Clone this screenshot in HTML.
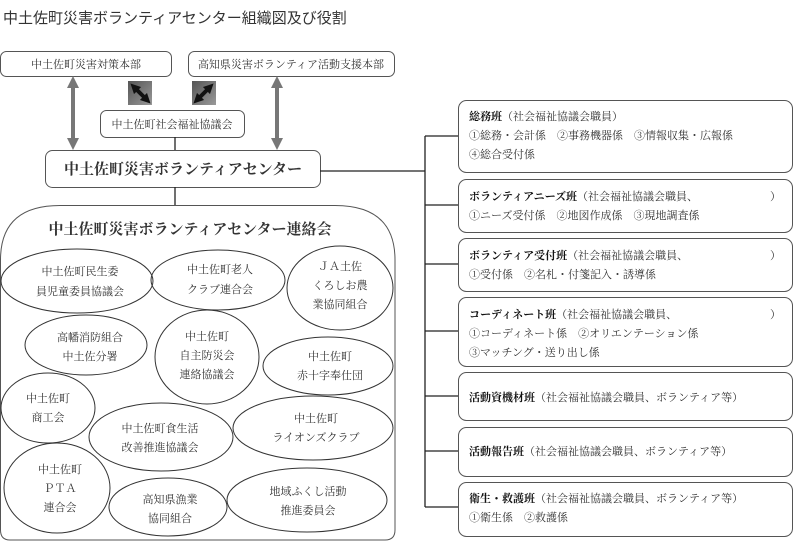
<!DOCTYPE html><html><head><meta charset="utf-8"><style>body{margin:0;background:#fff}svg{display:block}text{font-family:"Liberation Serif","Noto Serif CJK SC",serif;fill:#333}</style></head><body>
<svg width="800" height="542" viewBox="0 0 800 542" xmlns="http://www.w3.org/2000/svg">
<defs><marker id="a" viewBox="0 0 10 10" refX="5" refY="5" markerWidth="3" markerHeight="3" orient="auto-start-reverse"><path d="M0,0L10,5L0,10z" fill="#777"/></marker>
<marker id="b" viewBox="0 0 10 10" refX="5" refY="5" markerWidth="2.5" markerHeight="2.5" orient="auto-start-reverse"><path d="M0,0L10,5L0,10z" fill="#111"/></marker>
<linearGradient id="g" x1="0" y1="0" x2="1" y2="1"><stop offset="0" stop-color="#555"/><stop offset="1" stop-color="#999"/></linearGradient></defs>
<text x="3" y="23" font-size="15" style="font-family:'Liberation Sans','Noto Sans CJK JP',sans-serif" fill="#222">中土佐町災害ボランティアセンター組織図及び役割</text>
<g fill="#fff" stroke="#555" stroke-width="1">
<rect x="0.5" y="51.5" width="171" height="25" rx="6"/>
<rect x="188.5" y="51.5" width="206" height="25" rx="6"/>
<rect x="100.5" y="110.5" width="144" height="27" rx="6"/>
<rect x="45.5" y="150.5" width="275" height="37" rx="7"/>
<path d="M60,205.5 H335 Q395,205.5 395,260 V530 Q395,540 385,540 H10 Q0.5,540 0.5,530 V260 Q0.5,205.5 60,205.5Z"/>
</g>
<g stroke="#777" stroke-width="4"><line x1="73" y1="82" x2="73" y2="144" marker-start="url(#a)" marker-end="url(#a)"/><line x1="277" y1="82" x2="277" y2="144" marker-start="url(#a)" marker-end="url(#a)"/></g>
<rect x="128" y="81" width="24" height="24" fill="url(#g)"/><line x1="134" y1="87" x2="147" y2="100" stroke="#111" stroke-width="4" marker-start="url(#b)" marker-end="url(#b)"/>
<rect x="192" y="81" width="24" height="24" fill="url(#g)"/><line x1="210" y1="87" x2="197" y2="100" stroke="#111" stroke-width="4" marker-start="url(#b)" marker-end="url(#b)"/>
<g stroke="#222" stroke-width="1.3" fill="none">
<line x1="175" y1="137" x2="175" y2="150"/><line x1="175" y1="187" x2="175" y2="205"/>
<line x1="320" y1="171" x2="425" y2="171"/><line x1="425" y1="136" x2="425" y2="507"/>
<path d="M425,136H458M425,205H458M425,264H458M425,331H458M425,396H458M425,451H458M425,507H458"/>
</g>
<g font-size="11" text-anchor="middle">
<text x="86" y="68">中土佐町災害対策本部</text>
<text x="291" y="68">高知県災害ボランティア活動支援本部</text>
<text x="172" y="128">中土佐町社会福祉協議会</text>
</g>
<text x="183" y="174" font-size="15" font-weight="bold" text-anchor="middle" fill="#111">中土佐町災害ボランティアセンター</text>
<text x="190" y="234" font-size="15" font-weight="bold" text-anchor="middle" fill="#111">中土佐町災害ボランティアセンター連絡会</text>
<g fill="none" stroke="#333" stroke-width="1">
<ellipse cx="77" cy="281" rx="76" ry="32"/><ellipse cx="218" cy="280" rx="67" ry="30"/><ellipse cx="340" cy="288" rx="53" ry="42"/>
<ellipse cx="86" cy="345" rx="61" ry="30"/><ellipse cx="207" cy="357" rx="52" ry="47"/><ellipse cx="328" cy="366" rx="65" ry="29"/>
<ellipse cx="48" cy="408" rx="47" ry="35"/><ellipse cx="161" cy="437" rx="72" ry="34"/><ellipse cx="313" cy="428" rx="80" ry="32"/>
<ellipse cx="57" cy="488" rx="53" ry="45"/><ellipse cx="168" cy="507" rx="59" ry="29"/><ellipse cx="307" cy="500" rx="80" ry="32"/>
</g>
<g font-size="11" text-anchor="middle">
<text x="80" y="275">中土佐町民生委</text><text x="80" y="295">員児童委員協議会</text>
<text x="220" y="273">中土佐町老人</text><text x="220" y="293">クラブ連合会</text>
<text x="340" y="270">ＪＡ土佐</text><text x="340" y="289">くろしお農</text><text x="340" y="308">業協同組合</text>
<text x="90" y="341">高幡消防組合</text><text x="90" y="360">中土佐分署</text>
<text x="207" y="340">中土佐町</text><text x="207" y="359">自主防災会</text><text x="207" y="378">連絡協議会</text>
<text x="330" y="360">中土佐町</text><text x="330" y="379">赤十字奉仕団</text>
<text x="48" y="402">中土佐町</text><text x="48" y="421">商工会</text>
<text x="160" y="432">中土佐町食生活</text><text x="160" y="451">改善推進協議会</text>
<text x="316" y="422">中土佐町</text><text x="316" y="441">ライオンズクラブ</text>
<text x="60" y="473">中土佐町</text><text x="60" y="492">ＰＴＡ</text><text x="60" y="511">連合会</text>
<text x="170" y="503">高知県漁業</text><text x="170" y="522">協同組合</text>
<text x="308" y="495">地域ふくし活動</text><text x="308" y="514">推進委員会</text>
</g>
<g fill="#fff" stroke="#555" stroke-width="1">
<rect x="458.5" y="100.5" width="334" height="72" rx="8"/>
<rect x="458.5" y="179.5" width="334" height="53" rx="8"/>
<rect x="458.5" y="238.5" width="334" height="53" rx="8"/>
<rect x="458.5" y="297.5" width="334" height="69" rx="8"/>
<rect x="458.5" y="372.5" width="334" height="48" rx="8"/>
<rect x="458.5" y="427.5" width="334" height="49" rx="8"/>
<rect x="458.5" y="482.5" width="334" height="54" rx="8"/>
</g>
<g font-size="11">
<text x="469" y="120"><tspan font-weight="bold" fill="#111">総務班</tspan>（社会福祉協議会職員）</text>
<text x="469" y="139">①総務・会計係　②事務機器係　③情報収集・広報係</text>
<text x="469" y="158">④総合受付係</text>
<text x="469" y="200"><tspan font-weight="bold" fill="#111">ボランティアニーズ班</tspan>（社会福祉協議会職員、</text><text x="770" y="200">）</text>
<text x="469" y="219">①ニーズ受付係　②地図作成係　③現地調査係</text>
<text x="469" y="259"><tspan font-weight="bold" fill="#111">ボランティア受付班</tspan>（社会福祉協議会職員、</text><text x="770" y="259">）</text>
<text x="469" y="278">①受付係　②名札・付箋記入・誘導係</text>
<text x="469" y="318"><tspan font-weight="bold" fill="#111">コーディネート班</tspan>（社会福祉協議会職員、</text><text x="770" y="318">）</text>
<text x="469" y="337">①コーディネート係　②オリエンテーション係</text>
<text x="469" y="356">③マッチング・送り出し係</text>
<text x="469" y="401"><tspan font-weight="bold" fill="#111">活動資機材班</tspan>（社会福祉協議会職員、ボランティア等）</text>
<text x="469" y="455"><tspan font-weight="bold" fill="#111">活動報告班</tspan>（社会福祉協議会職員、ボランティア等）</text>
<text x="469" y="502"><tspan font-weight="bold" fill="#111">衛生・救護班</tspan>（社会福祉協議会職員、ボランティア等）</text>
<text x="469" y="521">①衛生係　②救護係</text>
</g>
</svg></body></html>
